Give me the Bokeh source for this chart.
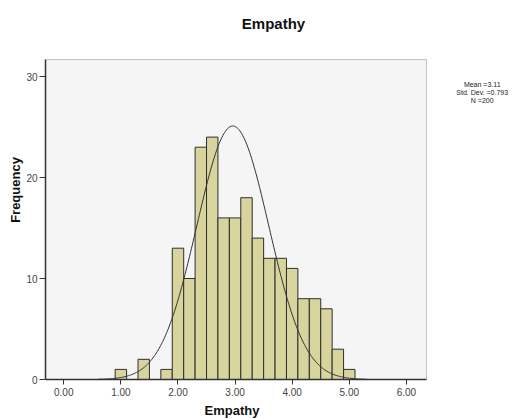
import numpy as np
from bokeh.plotting import figure
from bokeh.models import (Range1d, FixedTicker, ColumnDataSource, Label,
                          BoxAnnotation, Title)
from bokeh.embed import file_html
from bokeh.resources import INLINE

# ---- data ----
bin_centers = [1.0, 1.4, 1.8, 2.0, 2.2, 2.4, 2.6, 2.8, 3.0, 3.2, 3.4, 3.6, 3.8,
               4.0, 4.2, 4.4, 4.6, 4.8, 5.0]
counts = [1, 2, 1, 13, 10, 23, 24, 16, 16, 18, 14, 12, 12, 11, 8, 8, 7, 3, 1]
bin_width = 0.2
x_ticks = [0, 1, 2, 3, 4, 5, 6]
x_tick_labels = ["0.00", "1.00", "2.00", "3.00", "4.00", "5.00", "6.00"]
y_ticks = [0, 10, 20, 30]
stats_lines = ["Mean =3.11", "Std. Dev. =0.793", "N =200"]
# normal curve as drawn in the reference
curve_mean = 2.96
curve_sd = 0.63
curve_peak = 25.1
curve_from, curve_to = 0.6, 5.3

# visible plot box (axis extents) and the wider drawing area
box_x = (-0.32, 6.352)
box_y = (0, 31.68)
area_x = (-0.32, 8.191)
area_y = (0, 37.525)

FONT = "Liberation Sans"

p = figure(width=531, height=419, output_backend="svg", toolbar_location=None,
           x_range=Range1d(*area_x), y_range=Range1d(*area_y),
           min_border_left=45, min_border_right=0, min_border_top=0,
           min_border_bottom=40)
p.background_fill_color = "white"
p.border_fill_color = "white"
p.outline_line_color = None
p.grid.visible = False

p.add_layout(BoxAnnotation(left=box_x[0], right=box_x[1], bottom=box_y[0],
                           top=box_y[1], fill_color="#F5F5F5", fill_alpha=1,
                           line_color="#444444", line_width=1, level="underlay"))

src = ColumnDataSource(dict(
    left=[c - bin_width / 2 for c in bin_centers],
    right=[c + bin_width / 2 for c in bin_centers],
    top=counts,
    bottom=[0] * len(counts),
))
p.quad(left="left", right="right", top="top", bottom="bottom", source=src,
       fill_color="#D8D49E", line_color="#2E2E2E", line_width=1)

cx = np.linspace(curve_from, curve_to, 300)
cy = curve_peak * np.exp(-0.5 * ((cx - curve_mean) / curve_sd) ** 2)
p.line(cx, cy, line_color="#333333", line_width=1)

for ax in (p.xaxis[0], p.yaxis[0]):
    ax.axis_line_color = "#333333"
    ax.axis_line_width = 1.5
    ax.major_tick_line_color = "#333333"
    ax.minor_tick_line_color = None
    ax.major_tick_in = 0
    ax.major_label_text_font = FONT
    ax.major_label_text_font_size = "10px"
    ax.major_label_text_color = "#444444"
    ax.axis_label_text_font = FONT
    ax.axis_label_text_font_style = "bold"
    ax.axis_label_text_font_size = "13px"
    ax.axis_label_text_color = "#111111"

p.xaxis.bounds = box_x
p.xaxis.ticker = FixedTicker(ticks=x_ticks)
p.xaxis.major_label_overrides = {t: l for t, l in zip(x_ticks, x_tick_labels)}
p.xaxis.major_tick_out = 5
p.xaxis.major_label_standoff = 3
p.yaxis.bounds = box_y
p.yaxis.ticker = FixedTicker(ticks=y_ticks)
p.yaxis.major_tick_out = 6
p.yaxis.major_label_standoff = 2
p.yaxis.axis_label = "Frequency"
p.yaxis.axis_label_standoff = 0

# x-axis title, centred under the visible box (not under the wide area)
p.add_layout(Title(text="Empathy", align="left", offset=159, standoff=4,
                   text_font=FONT, text_font_style="bold", text_font_size="13px",
                   text_color="#111111"), "below")

# chart title and statistics block (inside the wide drawing area)
p.add_layout(Label(x=3.673, y=35.25, text="Empathy", text_align="center",
                   text_baseline="middle", text_font=FONT, text_font_style="bold",
                   text_font_size="15px", text_color="#111111"))
for i, line in enumerate(stats_lines):
    p.add_layout(Label(x=7.328, y=29.21 - i * 0.8, text=line, text_align="center",
                       text_baseline="middle", text_font=FONT,
                       text_font_size="7px", text_color="#222222"))

open("out.html", "w").write(file_html(p, INLINE))
